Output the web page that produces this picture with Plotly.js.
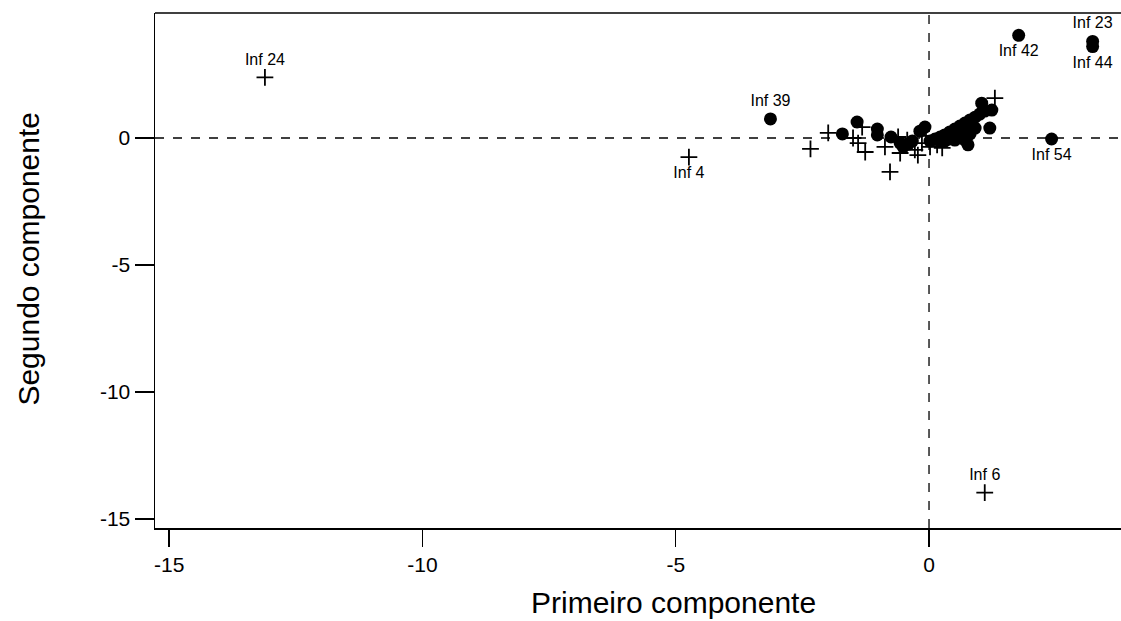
<!DOCTYPE html>
<html><head><meta charset="utf-8">
<script src="https://cdn.plot.ly/plotly-3.0.1.min.js"></script>
<style>body{margin:0;}#chart{width:1121px;height:621px;}</style>
</head><body><div id="chart"></div>
<script>
// Circles (filled dots)
const circleX = [-3.13,-1.42,-1.71,-1.02,-1.02,-0.75,-0.57,-0.51,-0.41,-0.33,-0.18,-0.08,
  0.02,0.12,0.22,0.31,0.41,0.51,0.61,0.71,0.81,0.91,1.00,1.10,
  0.31,0.51,0.61,0.71,0.77,0.81,0.91,0.65,0.41,0.22,
  1.04,1.24,1.20,1.77,3.23,3.23,2.42];
const circleY = [0.75,0.63,0.16,0.35,0.12,0.04,-0.20,-0.35,-0.24,-0.12,0.27,0.43,
  -0.12,-0.04,0.04,0.12,0.24,0.35,0.47,0.59,0.71,0.82,0.94,1.06,
  -0.12,-0.08,0.04,-0.08,-0.27,0.16,0.39,0.27,-0.04,-0.12,
  1.37,1.10,0.39,4.04,3.80,3.60,-0.04];
const circleLabel = ['Inf 39','','','','','','','','','','','',
  '','','','','','','','','','','','',
  '','','','','','','','','','',
  '','','','Inf 42','Inf 23','Inf 44','Inf 54'];
const circleLabelPos = ['top center','','','','','','','','','','','',
  '','','','','','','','','','','','',
  '','','','','','','','','','',
  '','','','bottom center','top center','bottom center','bottom center'];

// Crosses
const plusX = [-13.11,-4.74,1.10,-1.99,-2.34,-1.50,-1.40,-1.26,-1.32,-0.87,-0.77,-0.57,-0.61,
  -0.43,-0.28,-0.22,-0.14,0.02,0.16,0.26,-0.47,1.30,-0.06];
const plusY = [2.39,-0.75,-13.96,0.20,-0.43,0.00,-0.20,-0.55,0.43,-0.35,-1.33,-0.59,0.04,
  -0.08,-0.47,-0.67,-0.20,-0.35,-0.27,-0.39,-0.27,1.57,0.08];
const plusLabel = ['Inf 24','Inf 4','Inf 6','','','','','','','','','','',
  '','','','','','','','','',''];
const plusLabelPos = ['top center','bottom center','top center','','','','','','','','','','',
  '','','','','','','','','',''];

const xTicks = [-15,-10,-5,0];
const yTicks = [-15,-10,-5,0];
const xTitle = 'Primeiro componente';
const yTitle = 'Segundo componente';

const font = 'Liberation Sans, Arial, sans-serif';

const traces = [
  {x: circleX, y: circleY, type:'scatter', mode:'markers+text', text: circleLabel,
   textposition: circleLabelPos, textfont:{family:font,size:16,color:'#000'},
   marker:{symbol:'circle', size:13, color:'#000'}, hoverinfo:'x+y', cliponaxis:false},
  {x: plusX, y: plusY, type:'scatter', mode:'markers+text', text: plusLabel,
   textposition: plusLabelPos, textfont:{family:font,size:16,color:'#000'},
   marker:{symbol:'cross-thin-open', size:12, color:'#000', line:{width:1.8,color:'#000'}},
   hoverinfo:'x+y', cliponaxis:false}
];

const layout = {
  width:1121, height:621,
  margin:{l:155, r:0, t:13, b:93},
  paper_bgcolor:'#fff', plot_bgcolor:'#fff',
  showlegend:false,
  font:{family:font, color:'#000'},
  xaxis:{range:[-15.28,3.79], tickvals:xTicks, ticktext:xTicks.map(String),
    showgrid:false, zeroline:false, showline:true, linecolor:'#000', linewidth:1.5,
    ticks:'outside', ticklen:17, tickwidth:1.5, tickcolor:'#000',
    tickfont:{family:font,size:21,color:'#000'}},
  yaxis:{range:[-15.35,4.92], tickvals:yTicks, ticktext:yTicks.map(String),
    showgrid:false, zeroline:false, showline:true, linecolor:'#000', linewidth:1.5,
    ticks:'outside', ticklen:19, tickwidth:1.5, tickcolor:'#000',
    tickfont:{family:font,size:21,color:'#000'}},
  annotations:[
    {text:xTitle, xref:'paper', yref:'paper', x:0.537, y:-0.1456, xanchor:'center', yanchor:'middle',
     showarrow:false, font:{family:font,size:30,color:'#000'}},
    {text:yTitle, xref:'paper', yref:'paper', x:-0.131, y:0.524, xanchor:'center', yanchor:'middle',
     textangle:-90, showarrow:false, font:{family:font,size:30,color:'#000'}}
  ],
  shapes:[
    {type:'line', xref:'paper', yref:'paper', x0:0, x1:1, y0:1, y1:1, line:{color:'#000', width:1.5}},
    {type:'line', xref:'x', yref:'paper', x0:0, x1:0, y0:0, y1:1, line:{color:'#000', width:1.3, dash:'dash'}, layer:'below'},
    {type:'line', xref:'paper', yref:'y', x0:0, x1:1, y0:0, y1:0, line:{color:'#000', width:1.3, dash:'dash'}, layer:'below'}
  ]
};

Plotly.newPlot('chart', traces, layout, {displayModeBar:false, staticPlot:true});
</script></body></html>
